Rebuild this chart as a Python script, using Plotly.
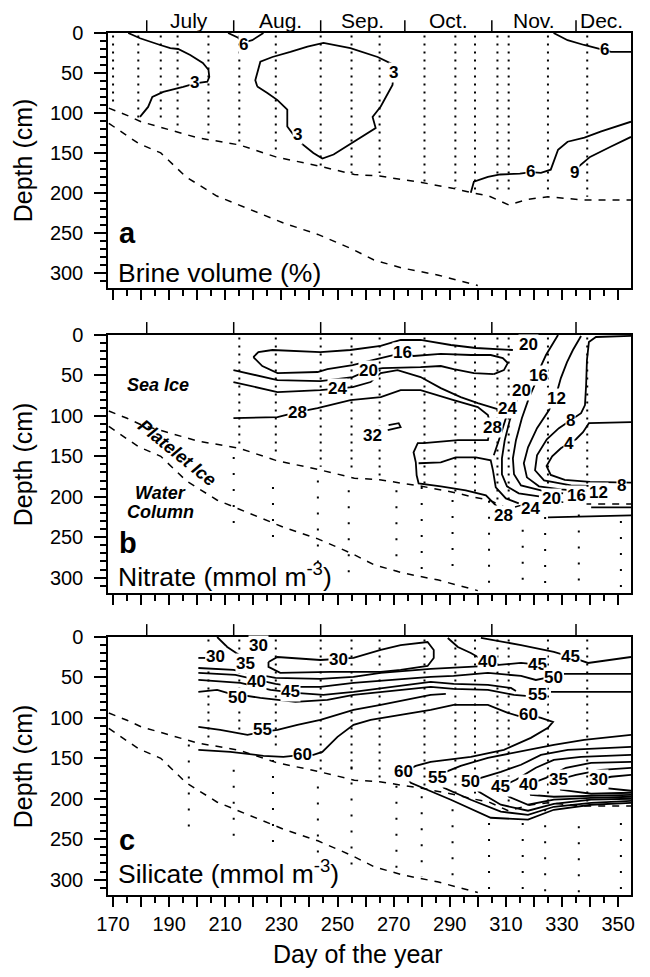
import plotly.graph_objects as go

FONT = "Liberation Sans, Arial, Helvetica, sans-serif"

# ---------------- axes / calendar ----------------
DAY_RANGE = [168.2, 354.6]
DEPTH_RANGE = [319, 0]
X_TICK_VALS = [170, 180, 190, 200, 210, 220, 230, 240, 250, 260, 270, 280, 290, 300, 310, 320, 330, 340, 350]
X_TICK_TEXT = ["170", " ", "190", " ", "210", " ", "230", " ", "250", " ", "270", " ", "290", " ", "310", " ", "330", " ", "350"]
MONTH_STARTS = [182, 213, 244, 274, 305, 335]
MONTH_NAMES = ["July", "Aug.", "Sep.", "Oct.", "Nov.", "Dec."]
MONTH_CENTERS = [197, 229.5, 259, 289.5, 320, 344]

# ---------------- ice boundaries (dashed) ----------------
ICE_BOTTOM_DAY = [168.5, 175, 180, 190, 200, 215, 228, 244, 256, 265, 280, 292, 298, 304, 311, 318, 325, 338, 354.6]
ICE_BOTTOM_DEPTH = [94, 103, 111, 121, 131, 140, 155, 167, 177, 179, 187, 195, 200, 204, 215, 208, 205, 209, 209]
PLATELET_BOTTOM_DAY = [168.5, 179, 187, 196, 207, 219, 231, 243, 255, 263, 273, 286, 300]
PLATELET_BOTTOM_DEPTH = [113, 138, 150, 180, 204, 221, 238, 252, 270, 284, 294, 303, 316]

# ---------------- sampling (dotted) ----------------
ICE_DAYS_A = [170, 179, 187, 193, 204, 215, 228, 244, 255, 265, 281, 292, 299, 307, 311, 325, 339]
ICE_BOTTOM_A = [88, 106, 106, 120, 131, 140, 152, 167, 175, 175, 188, 194, 198, 200, 198, 202, 205]

ICE_DAYS_B = [215, 228, 244, 255, 265, 281, 292, 299, 307, 311, 325, 339]
ICE_BOTTOM_B = [139, 151, 163, 171, 180, 188, 197, 200, 204, 205, 206, 190]
WATER_DAYS_B = [213, 227, 243, 254, 271, 280, 291, 304, 316, 324, 336, 351]
WATER_TOP_B = [151, 188, 180, 192, 192, 188, 204, 205, 221, 225, 222, 230]
WATER_BOTTOM_B = [245, 258, 287, 300, 291, 300, 303, 307, 319, 319, 319, 319]

ICE_DAYS_C = [204, 215, 228, 244, 255, 265, 281, 292, 299, 307, 311, 325, 339]
ICE_BOTTOM_C = [127, 119, 139, 164, 170, 180, 185, 193, 198, 200, 205, 207, 209]
WATER_DAYS_C = [197, 213, 227, 243, 255, 271, 280, 291, 304, 316, 324, 336, 351]
WATER_TOP_C = [133, 164, 152, 185, 160, 164, 197, 213, 230, 230, 213, 234, 230]
WATER_BOTTOM_C = [238, 250, 259, 284, 291, 291, 296, 296, 312, 316, 316, 316, 316]

# ---------------- (a) brine volume isolines: (level, days, depths) ----------------
BRINE_LINES = [
    (3, [175.4, 179.6, 186.8, 190.4, 193.2, 197.5, 202, 204, 204.3, 203.6, 199.3, 195, 187.9, 184, 182.5, 179.6],
        [0, 6.6, 15, 19, 20, 27.5, 37.5, 46, 55, 61, 63, 67.5, 73.7, 80, 92.5, 105]),
    (6, [211, 214.6, 216.4, 219.6, 223.6], [0, 6, 12, 9, 0]),
    (3, [221.4, 220.7, 222.5, 226.8, 233.2, 239.3, 245, 254.6, 264.3, 269, 270, 269.6, 265.4, 262.5, 263.6,
         257, 248.6, 244.6, 241.4, 235.7, 233.2, 232.1, 232.1, 228.6, 225, 221.4],
        [67, 59, 36, 30, 23.7, 17, 12.5, 19, 30, 38, 50, 65, 92, 105, 119, 134, 152, 157, 150, 134, 123, 117,
         96, 84, 75, 67]),
    (6, [327, 332, 337.9, 345, 347.5, 354.6], [0, 9, 15, 21, 23.5, 23.5]),
    (6, [297.5, 298.6, 303.6, 308, 315, 319, 322.5, 326, 328.6, 332, 338, 344, 354.6],
        [200, 186, 180, 177, 176, 174, 175, 171, 146, 136, 131, 123, 111]),
    (9, [334.3, 336.8, 340, 347.5, 354.6], [172, 165, 155, 142, 130]),
]
BRINE_LABELS = [("3", 198.9, 62.5), ("6", 216.4, 15), ("3", 235.7, 127.5), ("3", 270, 50),
                ("6", 345, 21), ("6", 318.9, 173.8), ("9", 334.3, 175)]

# ---------------- (b) nitrate isolines ----------------
NITRATE_LINES = [
    (20, [312.5, 299.3, 290.4, 279.6, 272.5, 265.4, 254.6, 243.9, 226.8, 221.8, 220],
         [18.6, 16.1, 12.4, 6.2, 6.2, 13.6, 18.6, 21.1, 18.6, 21.1, 27.3]),
    (16, [220, 223.2, 228.6, 242.9, 246.4, 255.4, 264.3, 269.6, 273.2, 277.1, 286.8, 297.5, 304.6, 308.9, 310.7, 309.3, 305.7],
         [27.3, 38.4, 47.1, 45.8, 42.1, 37.2, 29.7, 24.8, 22.3, 26, 23.5, 24.8, 24.8, 28.5, 34.7, 43.4, 48.3]),
    (20, [305.7, 298.6, 291.4, 286.8, 279.6, 266.1, 261.1, 255.4, 243.9, 228.6, 212.9],
         [48.3, 47.1, 42.1, 38.4, 39.7, 40.9, 43.4, 52, 57, 55.8, 43.4]),
    (24, [212.9, 228.6, 243.9, 250, 255.4, 261.8, 265.4, 271.4, 279.6, 286.8, 293.9, 300, 305.4, 308.2],
         [58.2, 70.6, 68.2, 65.7, 64.4, 58.2, 47.1, 43.4, 52, 65.7, 76.8, 84.3, 90.5, 93]),
    (28, [212.9, 228.6, 235.7, 242.9, 254.6, 265.4, 272.5, 279.6, 291.4, 300, 303.6, 304.6, 303.6, 292.9, 280.7,
          278.6, 277.1, 277.9, 278.2, 278.9, 286.8, 295.7, 302.9, 306.4, 308.2],
         [102.9, 101.6, 95.4, 90.5, 80.5, 76.8, 68.2, 68.2, 80.5, 89.2, 99.1, 111.5, 130.1, 130.1, 133.8,
          133.8, 145, 157.4, 173.5, 183.4, 187.1, 192.1, 198.3, 210.7, 219.3]),
    (24, [278.9, 286.8, 292.1, 299.3, 304.6, 305.4, 306.4, 310, 314.6],
         [158.6, 157.4, 151.2, 151.2, 154.9, 167.3, 188.4, 202, 208.2]),
    (24, [310.7, 309.3, 307.5, 305.7], [95.4, 111.5, 130.1, 148.7]),
    (20, [316.8, 313.6, 311.4, 309.6, 308.6, 308.6, 310.4, 314.6, 321.8],
         [60.7, 83, 105.3, 130.1, 152.4, 172.2, 187.1, 195.8, 199.5]),
    (16, [328.6, 326.1, 324.3, 322.5, 320.7, 318.2, 315.7, 313.6, 312.5, 312.9, 315.4, 322.5, 330.4],
         [0, 13.6, 24.8, 38.4, 58.2, 78.1, 102.9, 130.1, 152.4, 172.2, 185.9, 192.1, 195.8]),
    (12, [336.8, 333.9, 331.8, 329.6, 328.2, 325.4, 321.1, 317.9, 316.4, 317.5, 321.8, 329.6, 338.6],
         [1.2, 18.6, 33.5, 53.3, 70.6, 92.9, 115.2, 138.8, 158.6, 176, 187.1, 190.8, 193.3]),
    (8, [354.6, 342.1, 339.6, 338.9, 338.6, 338.2, 336.8, 333.2, 328.9, 324.6, 321.1, 320.4, 323.6, 333.2, 345.7],
        [1.2, 2.5, 8.7, 31, 62, 86.7, 96.7, 105.3, 115.2, 128.9, 148.7, 167.3, 179.7, 185.9, 187.1]),
    (4, [354.6, 339.6, 337.5, 335, 332.5, 329.6, 326.5, 324.5, 326, 331, 340, 354.6],
        [107.8, 109, 120.2, 128.9, 133.8, 140, 150, 162, 173, 179, 181.5, 182.5]),
    (28, [340.4, 354.6], [213.1, 213.1]),
    (28, [325, 354.6], [225.5, 223]),
    (32, [267.9, 272.5, 271.8, 268.2], [117.7, 114, 109, 111.5]),
]
NITRATE_LABELS = [("16", 273.2, 22.3), ("20", 261.1, 43.4), ("24", 250, 65.7), ("28", 235.7, 95.4),
                  ("32", 262.5, 123.9), ("20", 318.2, 12.4), ("16", 321.8, 49.6), ("20", 315.4, 68.2),
                  ("12", 327.9, 78.1), ("24", 310.7, 90.5), ("8", 333.2, 105.3), ("28", 305.4, 114),
                  ("4", 332.5, 133.8), ("28", 309.3, 223), ("24", 318.9, 214.4), ("20", 326.1, 202),
                  ("16", 335, 198.3), ("12", 342.9, 194.5), ("8", 351.1, 185.9)]
REGION_LABELS = [("Sea Ice", 186.1, 62, 0), ("Platelet Ice", 192.9, 146, 39),
                 ("Water", 186.8, 195.8, 0), ("Column", 186.8, 219.3, 0)]

# ---------------- (c) silicate isolines ----------------
SILICATE_LINES = [
    (30, [207.1, 210.7, 213.9, 216.1], [0, 12.3, 19.8, 24.7]),
    (30, [200.4, 202.9], [25.9, 25.9]),
    (30, [225.4, 228.6, 243.9, 255.7, 265.4, 272.5, 282.1, 284.3, 284.3, 282.1, 272.5, 265.4, 247.5, 229.6, 225.4, 225.4],
         [30.9, 24.7, 28.4, 25.9, 16, 9.9, 6.2, 16, 25.9, 35.8, 40.7, 43.2, 43.2, 44.4, 37, 30.9]),
    (35, [200.4, 212.9, 227.9, 243.9, 255.7, 265.4, 283.2, 291.4, 303.6, 315.4, 318.9],
         [38.3, 40.7, 50.6, 51.9, 49.4, 44.4, 39.5, 38.3, 35.8, 32.1, 33.3]),
    (40, [200.4, 213.6, 227.9, 235, 243.9, 255.7, 283.2, 291.4, 303.6, 315.4, 320.7, 324.3],
         [44.4, 46.9, 58, 61.7, 61.7, 56.8, 49.4, 48.1, 44.4, 48.1, 53.1, 50.6]),
    (50, [330.7, 354.6], [45.7, 45.7]),
    (45, [200.4, 215.4, 226.1, 235, 245, 255.7, 283.2, 291.4, 303.6, 311.8, 313.6],
         [53.1, 56.8, 65.4, 69.1, 71.6, 67.9, 55.6, 58, 59.3, 63, 66.7]),
    (50, [200.4, 207.1, 210.7, 222.5, 235, 246.4, 255.7, 283.2, 291.4, 303.6, 312.9, 317.1],
         [67.9, 65.4, 69.1, 75.3, 80.2, 77.8, 71.6, 61.7, 64.2, 65.4, 71.6, 72.8]),
    (55, [326.1, 354.6], [67.9, 67.9]),
    (55, [200.4, 208.2, 217.9, 223.2, 228.6, 235.7, 243.9, 255.7, 265.4, 283.2, 288.6],
         [111.1, 114.8, 121, 117.3, 114.8, 108.6, 102.5, 90.1, 84, 71.6, 70.4]),
    (60, [200.4, 211.8, 223.6, 230.7, 237.5, 241.4, 244.6, 250, 255.7, 261.8, 272.5, 283.2, 291.4, 303.6, 310.7,
          314.3, 318.2, 322.5, 326.8, 325, 318.9, 309.3, 297.5, 283.2, 277.9, 273.6, 276.1, 290.4, 304.6, 317.9,
          327.1, 340.4, 354.6],
         [139.5, 142, 146.9, 148.1, 145.7, 145.7, 142, 123.5, 108.6, 102.5, 96.3, 90.1, 84, 84, 93.8, 97.5, 96.3,
          100, 104.9, 112.3, 124.7, 139.5, 148.1, 154.3, 159.3, 166.7, 180.2, 201.2, 223.5, 225.9, 213.6, 207.4, 205]),
    (40, [289.3, 292.9, 297.5, 301.1], [1.2, 12.3, 19.8, 27]),
    (45, [301.1, 315.4, 327.1, 330.7, 333.2, 339.3, 354.6], [1.2, 9.9, 18.5, 22.2, 24.7, 32.1, 24.7]),
    (55, [354.6, 337.9, 327.1, 314.3, 303.6, 293.9, 288.6, 285.7, 287.9, 297.5, 308.2, 317.9, 327.1, 340.4, 354.6],
         [121, 127.2, 133.3, 142, 149.4, 159.3, 166.7, 174.1, 186.4, 201.2, 216, 219.8, 209.9, 205, 202.5]),
    (50, [354.6, 332.1, 322.5, 315.4, 308.2, 301.1, 297.5, 300.4, 308.2, 317.9, 327.1, 340.4, 354.6],
         [135.8, 139.5, 145.7, 158, 166.7, 174.1, 179, 191.4, 207.4, 214.8, 206.2, 201.2, 200]),
    (45, [354.6, 336.8, 327.1, 320.7, 313.6, 308.2, 311.1, 317.9, 327.1, 340.4, 354.6],
         [145.7, 148.1, 151.9, 161.7, 176.5, 185.2, 197.5, 207.4, 201.2, 198.8, 197.5]),
    (40, [354.6, 340.4, 331.4, 324.3, 317.9, 318.9, 327.1, 340.4, 354.6],
         [154.3, 155.6, 161.7, 174.1, 182.7, 195.1, 197.5, 196.3, 195.1]),
    (35, [354.6, 343.9, 335, 328.6, 329.6, 340.4, 354.6], [161.7, 164.2, 170.4, 176.5, 188.9, 193.8, 192.6]),
    (30, [354.6, 347.5, 342.9, 343.9, 354.6], [170.4, 172.8, 176.5, 186.4, 190.1]),
]
SILICATE_LABELS = [("30", 206.4, 24.7), ("30", 222, 9.9), ("35", 217.1, 33.3), ("40", 221.1, 55.6),
                   ("45", 233.2, 67.9), ("50", 214.3, 75.3), ("30", 250.4, 27.2), ("55", 223.2, 114.8),
                   ("60", 237.5, 145.7), ("40", 303.6, 30.9), ("45", 333.2, 24.7), ("45", 321.4, 34.6),
                   ("50", 327.1, 50.6), ("55", 321.4, 71.6), ("60", 318.2, 96.3), ("60", 273.6, 166.7),
                   ("55", 285.7, 174.1), ("50", 297.5, 179), ("45", 308.2, 185.2), ("40", 317.9, 182.7),
                   ("35", 328.6, 176.5), ("30", 342.9, 176.5)]

PANEL_LETTERS = ["a", "b", "c"]
PANEL_TITLES = ["Brine volume (%)", "Nitrate (mmol m<sup>-3</sup>)", "Silicate (mmol m<sup>-3</sup>)"]
PANEL_LETTER_DEPTH = [250, 257, 251]
PANEL_TITLE_DEPTH = [300, 297, 291]

# ---------------- figure ----------------
fig = go.Figure()
AX = [("x", "y"), ("x2", "y2"), ("x3", "y3")]


def add_line(p, xs, ys, width=1.8, dash=None, name=None):
    xa, ya = AX[p]
    fig.add_trace(go.Scatter(x=xs, y=ys, xaxis=xa, yaxis=ya, mode="lines", name=name,
                             line=dict(color="black", width=width, dash=dash),
                             hoverinfo="skip", showlegend=False))


def samples(days, tops, bottoms):
    xs, ys = [], []
    for d, t, b in zip(days, tops, bottoms):
        xs += [d, d, None]
        ys += [t, b, None]
    return xs, ys


DOT = "2px,6px"
SPARSE_DOT = "2px,14px"
DASH = "7px,7px"

# sampling lines
xs, ys = samples(ICE_DAYS_A, [3] * len(ICE_DAYS_A), ICE_BOTTOM_A)
add_line(0, xs, ys, width=2, dash=DOT)
for p, (idays, ibot, wdays, wtop, wbot) in enumerate([
        (ICE_DAYS_B, ICE_BOTTOM_B, WATER_DAYS_B, WATER_TOP_B, WATER_BOTTOM_B),
        (ICE_DAYS_C, ICE_BOTTOM_C, WATER_DAYS_C, WATER_TOP_C, WATER_BOTTOM_C)], start=1):
    xs, ys = samples(idays, [3] * len(idays), ibot)
    add_line(p, xs, ys, width=2, dash=DOT)
    xs, ys = samples(wdays, wtop, wbot)
    add_line(p, xs, ys, width=2, dash=SPARSE_DOT)

# boundaries
for p in range(3):
    add_line(p, ICE_BOTTOM_DAY, ICE_BOTTOM_DEPTH, width=1.5, dash=DASH)
    add_line(p, PLATELET_BOTTOM_DAY, PLATELET_BOTTOM_DEPTH, width=1.5, dash=DASH)

# isolines
for p, lines in enumerate([BRINE_LINES, NITRATE_LINES, SILICATE_LINES]):
    for lvl, d, z in lines:
        add_line(p, d, z, width=1.8, name=str(lvl))

annotations = []
shapes = []
for p, labels in enumerate([BRINE_LABELS, NITRATE_LABELS, SILICATE_LABELS]):
    xa, ya = AX[p]
    for t, d, z in labels:
        annotations.append(dict(x=d, y=z, xref=xa, yref=ya, text="<b>%s</b>" % t, showarrow=False,
                                font=dict(family=FONT, size=17, color="black"),
                                bgcolor="white", borderpad=0, xanchor="center", yanchor="middle"))
    annotations.append(dict(x=171.5, y=PANEL_LETTER_DEPTH[p], xref=xa, yref=ya,
                            text="<b>%s</b>" % PANEL_LETTERS[p], showarrow=False,
                            font=dict(family=FONT, size=29, color="black"), xanchor="left", yanchor="middle"))
    annotations.append(dict(x=171.0, y=PANEL_TITLE_DEPTH[p], xref=xa, yref=ya,
                            text=PANEL_TITLES[p], showarrow=False,
                            font=dict(family=FONT, size=26.5, color="black"), xanchor="left", yanchor="middle"))
    for ms in MONTH_STARTS:
        shapes.append(dict(type="line", xref=xa, yref=ya + " domain", x0=ms, x1=ms, y0=1, y1=1.05,
                           line=dict(color="black", width=1.5)))

for name, c in zip(MONTH_NAMES, MONTH_CENTERS):
    annotations.append(dict(x=c, y=1, xref="x", yref="y domain", text=name, showarrow=False,
                            font=dict(family=FONT, size=21, color="black"), xanchor="center",
                            yanchor="bottom", yshift=-1))

for t, d, z, ang in REGION_LABELS:
    annotations.append(dict(x=d, y=z, xref="x2", yref="y2", text="<b><i>%s</i></b>" % t, showarrow=False,
                            textangle=ang, font=dict(family=FONT, size=18, color="black"),
                            xanchor="center", yanchor="middle"))

for yc in [0.8527, 0.5, 0.1497]:
    annotations.append(dict(x=-0.162, y=yc, xref="paper", yref="paper", text="Depth (cm)", showarrow=False,
                            textangle=-90, font=dict(family=FONT, size=25, color="black"),
                            xanchor="center", yanchor="middle"))
annotations.append(dict(x=0.478, y=-0.069, xref="paper", yref="paper", text="Day of the year", showarrow=False,
                        font=dict(family=FONT, size=25, color="black"), xanchor="center", yanchor="middle"))

DOMAINS = [[0.7042, 1.0], [0.3503, 0.6497], [0.0, 0.2993]]
layout = dict(width=642, height=969, margin=dict(l=100, r=19, t=25, b=82),
              plot_bgcolor="white", paper_bgcolor="white", showlegend=False,
              annotations=annotations, shapes=shapes)
for i in range(3):
    sfx = "" if i == 0 else str(i + 1)
    layout["xaxis" + sfx] = dict(domain=[0, 1], anchor="y" + sfx, range=DAY_RANGE, showgrid=False,
                                 zeroline=False, showline=True, linecolor="black", linewidth=1.5, mirror=True,
                                 ticks="outside", ticklen=10, tickwidth=1.5, tickcolor="black",
                                 tickmode="array", tickvals=X_TICK_VALS, ticktext=X_TICK_TEXT,
                                 showticklabels=(i == 2),
                                 tickfont=dict(family=FONT, size=20, color="black"),
                                 minor=dict(tickmode="linear", tick0=170, dtick=5, ticks="outside", ticklen=6,
                                            tickwidth=1.5, tickcolor="black"))
    layout["yaxis" + sfx] = dict(domain=DOMAINS[i], anchor="x" + sfx, range=DEPTH_RANGE, showgrid=False,
                                 zeroline=False, showline=True, linecolor="black", linewidth=1.5, mirror=True,
                                 ticks="outside", ticklen=12, tickwidth=1.5, tickcolor="black",
                                 tickmode="linear", tick0=0, dtick=50, ticklabelstandoff=7,
                                 tickfont=dict(family=FONT, size=20, color="black"),
                                 minor=dict(tickmode="linear", tick0=0, dtick=10, ticks="outside", ticklen=6,
                                            tickwidth=1.5, tickcolor="black"))
fig.update_layout(**layout)
fig.write_html("out.html")
